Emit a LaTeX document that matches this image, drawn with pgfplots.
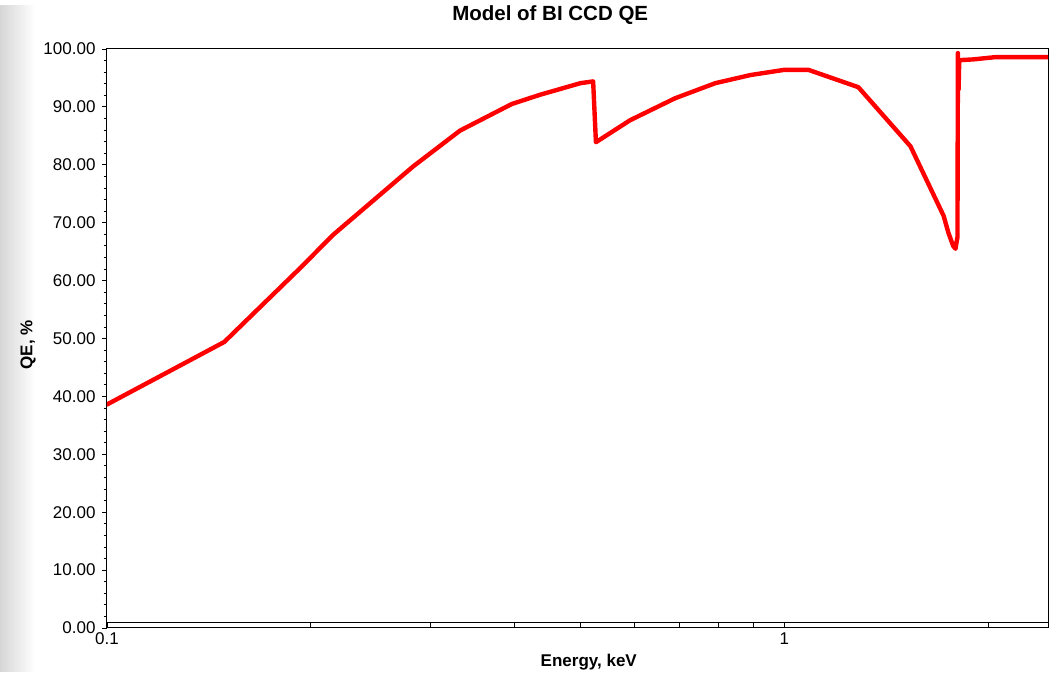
\documentclass[border=0pt]{standalone}
\usepackage{pgfplots}
\pgfplotsset{compat=1.18}
\usepackage{fontspec}
\setmainfont{Liberation Sans}
\begin{document}
\begin{tikzpicture}
\fill[left color=black!16, right color=white] (-107pt,-43pt) rectangle (-72pt,622pt);
\begin{axis}[
  at={(0pt,0pt)}, anchor=south west,
  scale only axis, width=941pt, height=579pt,
  xmode=log, xmin=0.1, xmax=2.45, ymin=0, ymax=100,
  xtick={0.1,1}, xticklabels={0.1,1},
  minor xtick={0.2,0.3,0.4,0.5,0.6,0.7,0.8,0.9,2},
  ytick={0,10,20,30,40,50,60,70,80,90,100},
  minor y tick num=4,
  xtick pos=bottom, ytick pos=left,
  tick align=outside,
  major tick length=5pt, minor tick length=3.5pt,
  x tick style={yshift=5pt},
  tick style={black, line width=0.8pt},
  axis line style={black, line width=1pt},
  y tick label style={font=\fontsize{17}{19}\selectfont, xshift=-3pt,
     /pgf/number format/.cd, fixed, fixed zerofill, precision=2, assume math mode=true},
  x tick label style={font=\fontsize{17}{19}\selectfont, yshift=4pt},
  title={Model of BI CCD QE},
  title style={font=\bfseries\fontsize{20.5}{23}\selectfont, at={(0.471,1)}, anchor=base, yshift=22pt},
  xlabel={Energy, keV},
  xlabel style={font=\bfseries\fontsize{17}{19}\selectfont, at={(0.512,0)}, anchor=base, yshift=-38pt},
  ylabel={QE, \%},
  ylabel style={font=\bfseries\fontsize{17}{19}\selectfont, at={(0,0.489)}, anchor=center, yshift=79pt},
  clip=true,
]
\addplot[black, line width=0.8pt, forget plot] coordinates {(0.1,1) (2.45,1)};
\addplot[red, line width=4.4pt, line join=round, line cap=round] coordinates {
(0.100,38.6)
(0.149,49.4)
(0.193,62.2)
(0.2157,67.9)
(0.283,79.7)
(0.332,85.9)
(0.396,90.5)
(0.436,92.1)
(0.500,94.1)
(0.522,94.4)
(0.527,83.9)
(0.592,87.7)
(0.690,91.5)
(0.791,94.1)
(0.891,95.5)
(1.000,96.4)
(1.085,96.4)
(1.286,93.4)
(1.535,83.2)
(1.718,71.2)
(1.747,68.2)
(1.775,66.0)
(1.789,65.5)
(1.801,67.5)
(1.804,99.3)
(1.808,93.0)
(1.812,98.0)
(1.830,98.1)
(1.900,98.2)
(2.050,98.6)
(2.450,98.6)
};
\end{axis}
\path (-107pt,-43pt) rectangle (950pt,628pt);
\end{tikzpicture}
\end{document}
